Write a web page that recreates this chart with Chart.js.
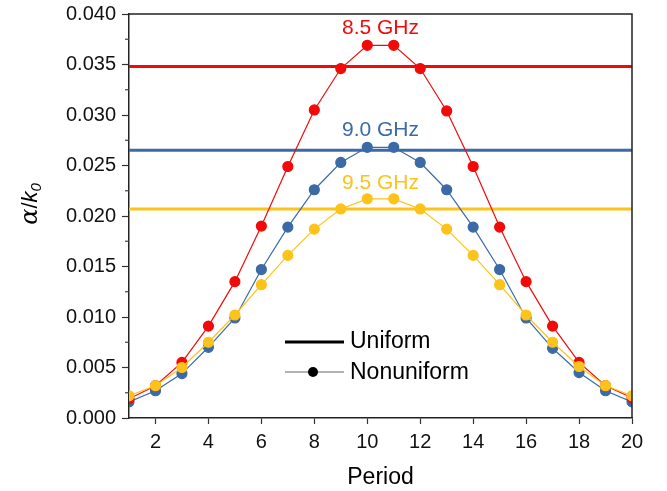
<!DOCTYPE html>
<html>
<head>
<meta charset="utf-8">
<script src="https://cdn.jsdelivr.net/npm/chart.js@4"></script>
<style>
  html, body { margin: 0; padding: 0; background: #fff; }
  #wrap { width: 667px; height: 491px; }
</style>
</head>
<body>
<div id="wrap"><canvas id="chart" width="667" height="491"></canvas></div>
<script>
// data
const periods = [1,2,3,4,5,6,7,8,9,10,11,12,13,14,15,16,17,18,19,20];
const xTicks = [2,4,6,8,10,12,14,16,18,20];
const yTicks = [0,0.005,0.010,0.015,0.020,0.025,0.030,0.035,0.040];
const freqLabels = ['8.5 GHz', '9.0 GHz', '9.5 GHz'];
const nonuni85 = [0.0019,0.0032,0.0055,0.0091,0.0135,0.0190,0.0249,0.0305,0.0346,0.0369,0.0369,0.0346,0.0304,0.0249,0.0189,0.0135,0.0091,0.0055,0.0032,0.0020];
const nonuni90 = [0.0016,0.0027,0.0044,0.0070,0.0099,0.0147,0.0189,0.0226,0.0253,0.0268,0.0268,0.0253,0.0226,0.0189,0.0147,0.0099,0.0069,0.0045,0.0027,0.0016];
const nonuni95 = [0.0022,0.0032,0.0050,0.0075,0.0102,0.0132,0.0161,0.0187,0.0207,0.0217,0.0217,0.0207,0.0187,0.0161,0.0132,0.0102,0.0075,0.0051,0.0032,0.0022];
const uniform = [0.0348, 0.0265, 0.0207];

const RED = '#f20a0a', BLUE = '#3b6aa6', YEL = '#fdc31a';
const colors = [RED, BLUE, YEL];
const FONT = '"Liberation Sans", Arial, sans-serif';

const toPts = arr => arr.map((v, i) => ({ x: periods[i], y: v }));
const flat = v => [{ x: periods[0], y: v }, { x: periods[periods.length - 1], y: v }];

const datasets = [
  { data: toPts(nonuni95), borderColor: YEL, backgroundColor: YEL, borderWidth: 1.2, pointRadius: 5, order: 0 },
  { data: toPts(nonuni85), borderColor: RED, backgroundColor: RED, borderWidth: 1.2, pointRadius: 5, order: 1 },
  { data: toPts(nonuni90), borderColor: BLUE, backgroundColor: BLUE, borderWidth: 1.2, pointRadius: 5, order: 2 },
];
uniform.forEach((v, i) => {
  datasets.push({ data: flat(v), borderColor: colors[i], borderWidth: 3, pointRadius: 0, order: 3 + i });
});

const decor = {
  id: 'decor',
  afterDraw(chart) {
    const { ctx, chartArea: a, scales: { x, y } } = chart;
    ctx.save();
    // frame top/right
    ctx.strokeStyle = '#222';
    ctx.lineWidth = 1.5;
    ctx.beginPath();
    ctx.moveTo(a.left, a.top); ctx.lineTo(a.right, a.top); ctx.lineTo(a.right, a.bottom);
    ctx.stroke();
    // minor y ticks
    ctx.lineWidth = 1.2;
    ctx.strokeStyle = '#444';
    for (let i = 0; i < yTicks.length - 1; i++) {
      const py = y.getPixelForValue((yTicks[i] + yTicks[i + 1]) / 2);
      ctx.beginPath(); ctx.moveTo(a.left - 4, py); ctx.lineTo(a.left, py); ctx.stroke();
    }
    // frequency labels
    ctx.font = '21px ' + FONT;
    ctx.textAlign = 'center';
    ctx.textBaseline = 'middle';
    const lblY = [0.0386, 0.0285, 0.0232];
    freqLabels.forEach((t, i) => {
      ctx.fillStyle = colors[i];
      ctx.fillText(t, x.getPixelForValue(10.5), y.getPixelForValue(lblY[i]));
    });
    // legend
    ctx.strokeStyle = '#000';
    ctx.lineWidth = 3;
    ctx.beginPath(); ctx.moveTo(285, 342); ctx.lineTo(344, 342); ctx.stroke();
    ctx.strokeStyle = '#666';
    ctx.lineWidth = 1.2;
    ctx.beginPath(); ctx.moveTo(285, 372); ctx.lineTo(344, 372); ctx.stroke();
    ctx.fillStyle = '#000';
    ctx.beginPath(); ctx.arc(313, 372, 5, 0, Math.PI * 2); ctx.fill();
    ctx.font = '23px ' + FONT;
    ctx.textAlign = 'left';
    ctx.fillText('Uniform', 350, 342);
    ctx.fillText('Nonuniform', 350, 373);
    // axis titles
    ctx.font = '23px ' + FONT;
    ctx.textAlign = 'center';
    ctx.fillText('Period', (a.left + a.right) / 2, 478);
    ctx.translate(31, 204);
    ctx.rotate(-Math.PI / 2);
    ctx.textAlign = 'left';
    ctx.font = 'italic 24px "DejaVu Serif", serif';
    const w1 = ctx.measureText('α').width;
    ctx.font = '22px ' + FONT;
    const w2 = ctx.measureText('/').width;
    ctx.font = 'italic 22px ' + FONT;
    const w3 = ctx.measureText('k').width;
    ctx.font = 'italic 15px ' + FONT;
    const w4 = ctx.measureText('0').width;
    let cx = -(w1 + w2 + w3 + w4) / 2;
    ctx.font = 'italic 24px "DejaVu Serif", serif';
    ctx.fillText('α', cx, 0); cx += w1;
    ctx.font = '22px ' + FONT;
    ctx.fillText('/', cx, 0); cx += w2;
    ctx.font = 'italic 22px ' + FONT;
    ctx.fillText('k', cx, 0); cx += w3;
    ctx.font = 'italic 15px ' + FONT;
    ctx.fillText('0', cx, 6);
    ctx.restore();
  }
};

new Chart(document.getElementById('chart'), {
  type: 'line',
  data: { datasets },
  options: {
    responsive: false,
    animation: false,
    layout: { padding: { left: 0, right: 35, top: 14, bottom: 0 } },
    plugins: { legend: { display: false }, tooltip: { enabled: false } },
    scales: {
      x: {
        type: 'linear', min: 1, max: 20,
        afterBuildTicks: s => { s.ticks = xTicks.map(v => ({ value: v })); },
        afterFit: s => { s.height = 73; s.paddingLeft = 0; s.paddingRight = 0; },
        grid: { drawOnChartArea: false, drawTicks: true, tickLength: 6, tickColor: '#333', tickWidth: 1.2 },
        border: { color: '#222', width: 1.5 },
        ticks: { color: '#111', font: { family: FONT, size: 20 }, padding: 6, maxRotation: 0 }
      },
      y: {
        min: 0, max: 0.04,
        afterBuildTicks: s => { s.ticks = yTicks.map(v => ({ value: v })); },
        afterFit: s => { s.width = 129; s.paddingTop = 0; s.paddingBottom = 0; },
        grid: { drawOnChartArea: false, drawTicks: true, tickLength: 7, tickColor: '#333', tickWidth: 1.2 },
        border: { color: '#222', width: 1.5 },
        ticks: { color: '#111', font: { family: FONT, size: 20 }, padding: 6, callback: v => v.toFixed(3) }
      }
    }
  },
  plugins: [decor]
});
</script>
</body>
</html>
